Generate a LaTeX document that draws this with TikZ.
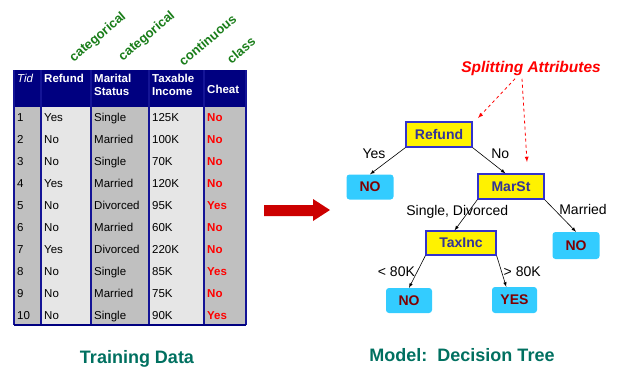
\documentclass[tikz,border=0pt]{standalone}
\usepackage{fontspec}
\setmainfont{Liberation Sans}
\usepackage{tikz}
\usetikzlibrary{arrows}

\definecolor{hdrblue}{RGB}{0,0,128}
\definecolor{linblue}{RGB}{20,20,150}
\definecolor{colgray}{RGB}{192,192,192}
\definecolor{collight}{RGB}{230,230,230}
\definecolor{attrgreen}{RGB}{25,125,25}
\definecolor{captgreen}{RGB}{0,112,96}
\definecolor{leafblue}{RGB}{51,204,255}
\definecolor{leafred}{RGB}{128,0,0}
\definecolor{boxblue}{RGB}{51,51,204}
\definecolor{boxtext}{RGB}{51,51,153}
\definecolor{arrowred}{RGB}{204,0,0}

\begin{document}
\begin{tikzpicture}[x=1pt,y=-1pt,
  cell/.style={anchor=base west,inner sep=2pt,font=\fontsize{11.5}{13}\selectfont},
  hdr/.style={anchor=base west,inner sep=2pt,align=left,text=white,font=\fontsize{11.5}{12.5}\selectfont\bfseries},
  attr/.style={rotate=40,text=attrgreen,font=\fontsize{13}{14}\selectfont\bfseries},
  testbox/.style={draw=boxblue,line width=1.2pt,fill=yellow,text=boxtext,minimum width=66pt,minimum height=25pt,inner sep=2pt,font=\fontsize{14}{16}\selectfont\bfseries},
  leaf/.style={fill=leafblue,rounded corners=3pt,text=leafred,minimum width=47pt,minimum height=25pt,inner sep=2pt,font=\fontsize{14}{16}\selectfont\bfseries},
  branch/.style={-latex,black,line width=0.6pt},
  elbl/.style={inner sep=2pt,text=black,font=\fontsize{14}{16}\selectfont},
  capt/.style={anchor=base,text=captgreen,font=\fontsize{18}{20}\selectfont\bfseries}]
\useasboundingbox (0,0) rectangle (619,367);

\node [attr] (attr1) at (98,37.5) {categorical};
\node [attr] (attr2) at (147,36.5) {categorical};
\node [attr] (attr3) at (207.5,40) {continuous};
\node [attr] (attr4) at (241,50) {class};

\fill [hdrblue] (14,70) rectangle (246,107);
\foreach \xa/\xb/\c in {14/41/colgray,41/91/collight,91/149/colgray,149/204/collight,204/246/colgray}
  \fill [\c] (\xa,107) rectangle (\xb,325);
\foreach \x in {14,41,91,149,204,246}
  \draw [linblue,line width=1.2pt] (\x,70) -- (\x,325);
\draw [hdrblue,line width=1.2pt] (14,325) -- (246,325);

\node [hdr,font=\fontsize{11.5}{12.5}\selectfont\itshape] (hTid) at (15,82.7) {Tid};
\node [hdr] (hRefund) at (42,82.7) {Refund};
\node [hdr] (hMarital) at (92,95.2) {Marital\\Status};
\node [hdr] (hTaxable) at (150,95.2) {Taxable\\Income};
\node [hdr] (hCheat) at (205,93.3) {Cheat};

\foreach \rf/\ms/\ti/\ch [count=\i] in {Yes/Single/125K/No,No/Married/100K/No,No/Single/70K/No,Yes/Married/120K/No,No/Divorced/95K/Yes,No/Married/60K/No,Yes/Divorced/220K/No,No/Single/85K/Yes,No/Married/75K/No,No/Single/90K/Yes}{
  \pgfmathsetmacro{\y}{99.5+22*\i}
  \node [cell] (tid\i) at (15,\y) {\i};
  \node [cell] (ref\i) at (42,\y) {\rf};
  \node [cell] (mar\i) at (92,\y) {\ms};
  \node [cell] (tax\i) at (150,\y) {\ti};
  \node [cell,text=red,font=\fontsize{11.5}{13}\selectfont\bfseries] (cls\i) at (205,\y) {\ch};
}

\fill [arrowred] (264,205) -- (313,205) -- (313,199) -- (330,210) -- (313,221) -- (313,216) -- (264,216) -- cycle;

\node [text=red,font=\fontsize{15.5}{17}\selectfont\bfseries\itshape] (splitlbl) at (531,68) {Splitting Attributes};
\node [testbox] (refund) at (439,134.5) {Refund};
\node [testbox] (marst) at (511,186.5) {MarSt};
\node [testbox,minimum width=70pt,minimum height=24pt] (taxinc) at (461,243) {TaxInc};
\node [leaf] (no1) at (370,187) {NO};
\node [leaf,minimum height=27pt] (no2) at (576,245.5) {NO};
\node [leaf,minimum width=46pt] (no3) at (409,300.5) {NO};
\node [leaf,minimum width=45pt,minimum height=26pt] (yesleaf) at (514.5,300) {YES};

\coordinate (sa1) at (478,118);
\coordinate (sa2) at (527,162);
\draw [-latex,red,dashed,line width=0.8pt] ([xshift=-16pt]splitlbl.south) -- (sa1);
\draw [-latex,red,dashed,line width=0.8pt] ([xshift=-9pt]splitlbl.south) -- (sa2);

\draw [branch] (refund.south west) -- node [elbl,above left] {Yes} (no1.north);
\draw [branch] (refund.south east) -- node [elbl,above right] {No} (marst.113);
\draw [branch] (marst.south west) -- node [elbl,pos=0.4,xshift=-11pt] {Single, Divorced} (taxinc.117);
\draw [branch] (marst.south east) -- node [elbl,pos=0.3,right=3pt] {Married} (no2.north);
\draw [branch] (taxinc.south west) -- node [elbl,left] {< 80K} (no3.north);
\draw [branch] (taxinc.south east) -- node [elbl,right] {> 80K} (yesleaf.122);

\node [capt] (traincapt) at (137,363) {Training Data};
\node [capt] (modelcapt) at (462,361.5) {Model:\ \ Decision Tree};
\end{tikzpicture}
\end{document}
